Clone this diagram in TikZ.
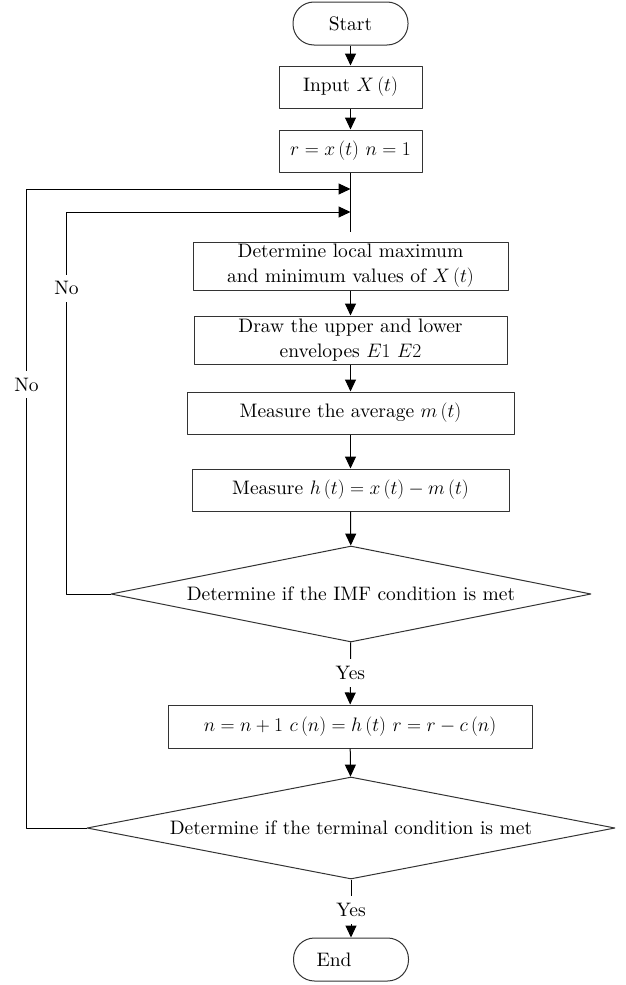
\RequirePackage{fix-cm}
\documentclass[tikz,border=0pt]{standalone}
\usepackage{fontspec}
\setmainfont{lmroman10}[Extension=.otf, UprightFont=*-regular, ItalicFont=*-italic, BoldFont=*-bold]
\usetikzlibrary{arrows.meta,shapes.geometric}
\begin{document}
\begin{tikzpicture}[x=1pt, y=-1pt, >={Triangle[length=12pt,width=11pt]}, font=\fontsize{19.5}{25}\selectfont, line join=round, line width=1pt,
	box/.style={draw=black!80, rectangle, minimum height=42pt, inner sep=0pt, align=center},
	term/.style={draw=black!80, rectangle, rounded corners=21pt, minimum width=115pt, minimum height=43pt, inner sep=0pt},
	test/.style={draw=black!80, diamond, aspect=5, inner sep=0pt},
	lbl/.style={fill=white, inner xsep=2pt, inner ysep=7pt}]
	\useasboundingbox (0,0) rectangle (625,985);
	% main column
	\node[term] (start) at (350.5,23.5) {Start};
	\node[box, minimum width=143pt] (input) at (350.5,87) {Input $X\,(t)$};
	\node[box, minimum width=143pt] (init) at (350.5,151) {$r = x\,(t)\ n = 1$};
	\coordinate (loopA) at (350.5,189);
	\coordinate (loopB) at (350.5,212);
	\coordinate (merge) at (350.5,232);
	\node[box, minimum width=315pt, minimum height=48pt] (extr) at (350.5,266) {Determine local maximum\\and minimum values of $X\,(t)$};
	\node[box, minimum width=313pt, minimum height=48pt] (env) at (350.5,340) {Draw the upper and lower\\envelopes $E1\ E2$};
	\node[box, minimum width=327pt] (avg) at (350.5,413) {Measure the average $m\,(t)$};
	\node[box, minimum width=317pt] (hx) at (350.5,490) {Measure $h\,(t) = x\,(t) - m\,(t)$};
	\node[test, minimum width=480pt, minimum height=96pt] (imf) at (351,594) {Determine if the IMF condition is met};
	\node[box, minimum width=364pt, minimum height=43pt] (upd) at (350,726.5) {$n = n + 1\ c\,(n) = h\,(t)\ r = r - c\,(n)$};
	\node[test, minimum width=528pt, minimum height=102pt] (stop) at (351,828) {Determine if the terminal condition is met};
	\node[term] (end) at (351,959.5) {End\hspace*{34pt}};
	% connectors
	\draw[->] (start) -- (input);
	\draw[->] (input) -- (init);
	\draw (init) -- (merge);
	\draw[->] (extr) -- (env);
	\draw[->] (env) -- (avg);
	\draw[->] (avg) -- (hx);
	\draw[->] (hx) -- (imf);
	\draw[->] (imf) -- node[lbl, pos=0.49]{Yes} (upd);
	\draw[->] (upd) -- (stop);
	\draw[->] (stop) -- node[lbl, pos=0.53]{Yes} (end);
	% loops back
	\draw[->] (imf.west) -- ++(-44,0) |- node[lbl, pos=0.4]{No} (loopB);
	\draw[->] (stop.west) -- ++(-60,0) |- node[lbl, pos=0.347]{No} (loopA);
\end{tikzpicture}
\end{document}
